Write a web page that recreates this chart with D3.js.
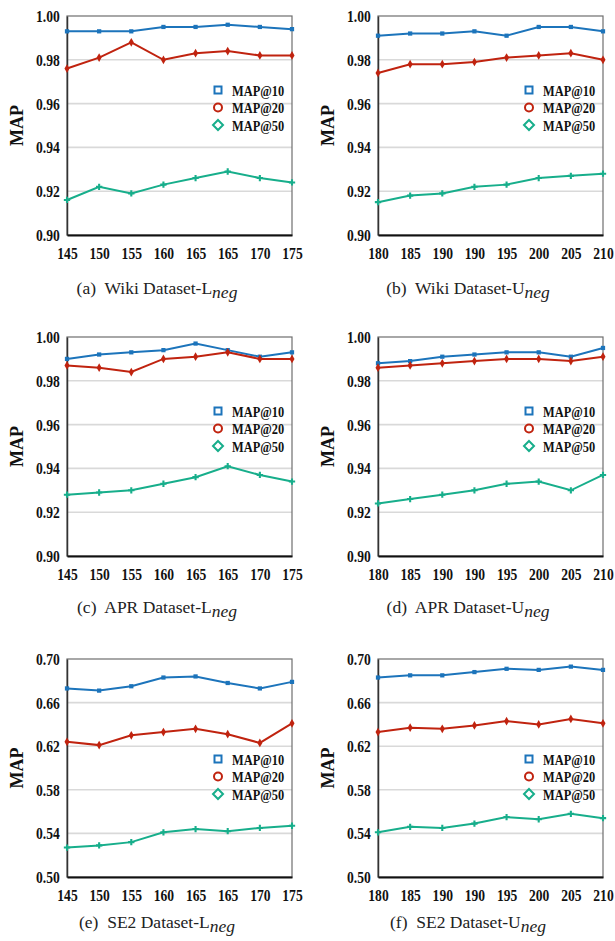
<!DOCTYPE html>
<html>
<head>
<meta charset="utf-8">
<script src="https://cdn.jsdelivr.net/npm/d3@7"></script>
<style>
  body { margin: 0; background: #fff; }
  text { font-family: "Liberation Serif", "Times New Roman", serif; }
</style>
</head>
<body>
<div id="chart"></div>
<script>
// x tick labels (the originals repeat a value, so points are placed by index)
const xLabelsL = ["145", "150", "155", "160", "165", "165", "170", "175"];
const xLabelsU = ["180", "185", "190", "190", "195", "200", "205", "210"];

const seriesNames = ["MAP@10", "MAP@20", "MAP@50"];

// Wiki
const wikiL10 = [0.993, 0.993, 0.993, 0.995, 0.995, 0.996, 0.995, 0.994];
const wikiL20 = [0.976, 0.981, 0.988, 0.980, 0.983, 0.984, 0.982, 0.982];
const wikiL50 = [0.916, 0.922, 0.919, 0.923, 0.926, 0.929, 0.926, 0.924];
const wikiU10 = [0.991, 0.992, 0.992, 0.993, 0.991, 0.995, 0.995, 0.993];
const wikiU20 = [0.974, 0.978, 0.978, 0.979, 0.981, 0.982, 0.983, 0.980];
const wikiU50 = [0.915, 0.918, 0.919, 0.922, 0.923, 0.926, 0.927, 0.928];

// APR
const aprL10 = [0.990, 0.992, 0.993, 0.994, 0.997, 0.994, 0.991, 0.993];
const aprL20 = [0.987, 0.986, 0.984, 0.990, 0.991, 0.993, 0.990, 0.990];
const aprL50 = [0.928, 0.929, 0.930, 0.933, 0.936, 0.941, 0.937, 0.934];
const aprU10 = [0.988, 0.989, 0.991, 0.992, 0.993, 0.993, 0.991, 0.995];
const aprU20 = [0.986, 0.987, 0.988, 0.989, 0.990, 0.990, 0.989, 0.991];
const aprU50 = [0.924, 0.926, 0.928, 0.930, 0.933, 0.934, 0.930, 0.937];

// SE2
const se2L10 = [0.673, 0.671, 0.675, 0.683, 0.684, 0.678, 0.673, 0.679];
const se2L20 = [0.624, 0.621, 0.630, 0.633, 0.636, 0.631, 0.623, 0.641];
const se2L50 = [0.527, 0.529, 0.532, 0.541, 0.544, 0.542, 0.545, 0.547];
const se2U10 = [0.683, 0.685, 0.685, 0.688, 0.691, 0.690, 0.693, 0.690];
const se2U20 = [0.633, 0.637, 0.636, 0.639, 0.643, 0.640, 0.645, 0.641];
const se2U50 = [0.541, 0.546, 0.545, 0.549, 0.555, 0.553, 0.558, 0.554];

// y ticks
const yTicksHigh = [0.90, 0.92, 0.94, 0.96, 0.98, 1.00];
const yTicksSE2 = [0.50, 0.54, 0.58, 0.62, 0.66, 0.70];

const colors = ["#1c74bb", "#c0230f", "#17ae8b"];

// panels built from the arrays above
const panels = [
  {tag: "(a)", name: "Wiki Dataset-", sub: "L", xl: xLabelsL, ys: [wikiL10, wikiL20, wikiL50], yt: yTicksHigh},
  {tag: "(b)", name: "Wiki Dataset-", sub: "U", xl: xLabelsU, ys: [wikiU10, wikiU20, wikiU50], yt: yTicksHigh},
  {tag: "(c)", name: "APR Dataset-", sub: "L", xl: xLabelsL, ys: [aprL10, aprL20, aprL50], yt: yTicksHigh},
  {tag: "(d)", name: "APR Dataset-", sub: "U", xl: xLabelsU, ys: [aprU10, aprU20, aprU50], yt: yTicksHigh},
  {tag: "(e)", name: "SE2 Dataset-", sub: "L", xl: xLabelsL, ys: [se2L10, se2L20, se2L50], yt: yTicksSE2},
  {tag: "(f)", name: "SE2 Dataset-", sub: "U", xl: xLabelsU, ys: [se2U10, se2U20, se2U50], yt: yTicksSE2}
];

// layout of the 3x2 grid
let cols = [{left: 67, right: 292, cx: 157}, {left: 378, right: 603, cx: 468}],
    rows = [{top: 16, bottom: 235, legend: 74, cap: 294},
            {top: 337, bottom: 556, legend: 74, cap: 613},
            {top: 659, bottom: 877, legend: 100, cap: 928}];

let svg = d3.select("#chart")
  .append("svg")
  .attr("width", 615)
  .attr("height", 941)
  .style("background-color", "white");

const squeeze = "scale(0.8,1)";
const markers = [d3.symbolSquare, d3.symbolDiamond, d3.symbolCross];

panels.forEach(function(p, i) {
  let c = cols[i % 2], r = rows[Math.floor(i / 2)];

  let x = d3.scalePoint().domain(d3.range(p.xl.length)).range([c.left, c.right]),
      y = d3.scaleLinear().domain([p.yt[0], p.yt[p.yt.length - 1]]).range([r.bottom, r.top]);

  let g = svg.append("g");

  // gridlines
  g.selectAll(".grid")
    .data(p.yt.slice(1, -1))
    .enter().append("line")
    .attr("x1", c.left).attr("x2", c.right)
    .attr("y1", d => y(d)).attr("y2", d => y(d))
    .attr("stroke", "#d9d9d9")
    .attr("stroke-width", 1.6);

  // plot border
  g.append("rect")
    .attr("x", c.left).attr("y", r.top)
    .attr("width", c.right - c.left).attr("height", r.bottom - r.top)
    .attr("fill", "none")
    .attr("stroke", "#6e6e6e")
    .attr("stroke-width", 1.2);

  // y axis
  let ya = g.append("g")
    .attr("transform", "translate(" + c.left + ",0)")
    .call(d3.axisLeft(y).tickValues(p.yt).tickFormat(d3.format(".2f")).tickSize(0).tickPadding(9));
  ya.select(".domain").attr("stroke", "#333").attr("stroke-width", 1.5);
  ya.selectAll("text")
    .attr("font-size", 17).attr("font-weight", "bold").attr("fill", "#111")
    .attr("font-family", "Liberation Serif, serif")
    .attr("transform", squeeze);

  // x axis
  let xa = g.append("g")
    .attr("transform", "translate(0," + r.bottom + ")")
    .call(d3.axisBottom(x).tickFormat(d => p.xl[d]).tickSize(0).tickPadding(12));
  xa.select(".domain").attr("stroke", "#111").attr("stroke-width", 1.8);
  xa.selectAll("text")
    .attr("font-size", 17).attr("font-weight", "bold").attr("fill", "#111")
    .attr("font-family", "Liberation Serif, serif")
    .attr("transform", squeeze);

  // y title
  g.append("text")
    .attr("transform", "translate(" + (c.left - 44) + "," + ((r.top + r.bottom) / 2) + ") rotate(-90)")
    .attr("text-anchor", "middle")
    .attr("font-size", 18).attr("font-weight", "bold").attr("fill", "#111")
    .text("MAP");

  // lines
  let line = d3.line().x((d, k) => x(k)).y(d => y(d));
  p.ys.forEach(function(vals, s) {
    g.append("path")
      .datum(vals)
      .attr("d", line)
      .attr("fill", "none")
      .attr("stroke", colors[s])
      .attr("stroke-width", 2);
    g.selectAll(".m" + s)
      .data(vals)
      .enter().append("path")
      .attr("transform", (d, k) => "translate(" + x(k) + "," + y(d) + ")")
      .attr("d", d3.symbol().type(markers[s]).size(s == 0 ? 18 : 22))
      .attr("fill", colors[s]);
  });

  // legend
  let lx = c.left + 151, ly = r.top + r.legend;
  seriesNames.forEach(function(n, s) {
    let yy = ly + s * 17.5;
    let mk = g.append("g").attr("transform", "translate(" + lx + "," + yy + ")");
    if (s == 0) mk.append("rect").attr("x", -3.5).attr("y", -3.5).attr("width", 7).attr("height", 7);
    if (s == 1) mk.append("circle").attr("r", 4);
    if (s == 2) mk.append("path").attr("d", "M0,-5L5,0L0,5L-5,0Z");
    mk.selectAll("*").attr("fill", "white").attr("stroke", colors[s]).attr("stroke-width", 2);
    g.append("text")
      .attr("transform", "translate(" + (lx + 14) + "," + (yy + 5.5) + ") " + squeeze)
      .attr("font-size", 15.5).attr("font-weight", "bold").attr("fill", "#111")
      .text(n);
  });

  // caption
  let cap = g.append("text")
    .attr("x", c.cx).attr("y", r.cap)
    .attr("text-anchor", "middle")
    .attr("font-size", 17.5).attr("fill", "#222");
  cap.append("tspan").text(p.tag + "\u00a0 " + p.name + p.sub);
  cap.append("tspan").attr("font-style", "italic").attr("dy", 4).text("neg");
});
</script>
</body>
</html>
